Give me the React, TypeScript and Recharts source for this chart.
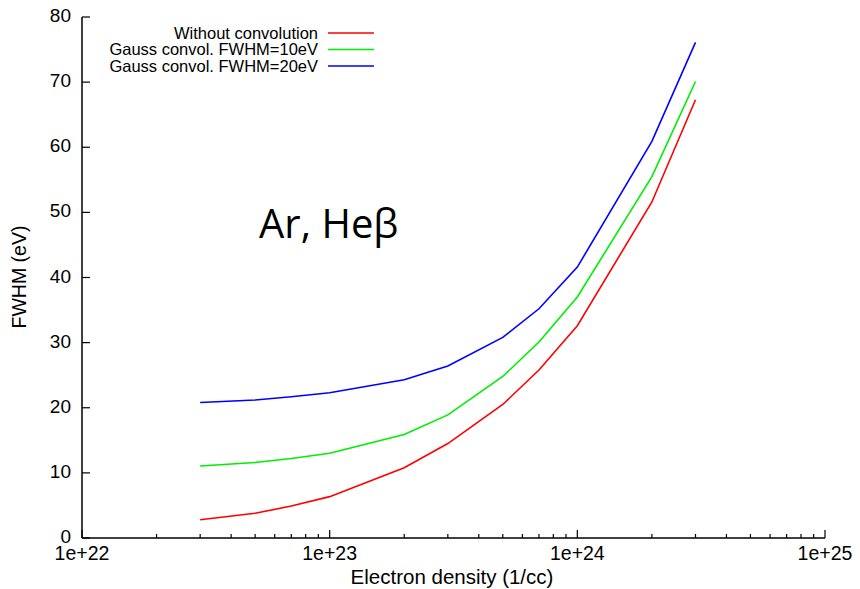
import React from "react";
import { LineChart, Line, XAxis, YAxis } from "recharts";

const densities = [3e22, 5e22, 7e22, 1e23, 2e23, 3e23, 5e23, 7e23, 1e24, 2e24, 3e24];
const noConv = [2.8, 3.8, 4.9, 6.35, 10.8, 14.5, 20.5, 25.8, 32.6, 51.6, 67.3];
const gauss10 = [11.05, 11.6, 12.2, 13.0, 15.9, 18.9, 24.8, 30.1, 37.0, 55.5, 70.1];
const gauss20 = [20.8, 21.2, 21.7, 22.3, 24.3, 26.4, 30.8, 35.2, 41.6, 60.9, 76.1];

const seriesNames = ["Without convolution", "Gauss convol. FWHM=10eV", "Gauss convol. FWHM=20eV"];
const seriesColors = ["#ff0000", "#00ee00", "#0000ff"];
const decades = [22, 23, 24];
const yTicks = [0, 10, 20, 30, 40, 50, 60, 70, 80];
const xTickLabels: Record<number, string> = { 22: "1e+22", 23: "1e+23", 24: "1e+24", 25: "1e+25" };
const xTitle = "Electron density (1/cc)";
const yTitle = "FWHM (eV)";
const annotation = "Ar, Heβ";

const xTicks: number[] = [];
decades.forEach((d) => {
  for (let m = 1; m <= 9; m++) xTicks.push(Number(`${m}e${d}`));
});
xTicks.push(1e25);

const data = densities.map((x, i) => ({ x, a: noConv[i], b: gauss10[i], c: gauss20[i] }));

const FONT = '"Liberation Sans", Arial, Helvetica, sans-serif';

const isMajor = (v: number) => {
  const e = Math.log10(v);
  return Math.abs(e - Math.round(e)) < 1e-6;
};

const BottomTick = (props: any) => {
  const { x, y, payload } = props;
  const v = payload.value;
  const major = isMajor(v);
  const e = Math.round(Math.log10(v));
  return (
    <g>
      <line x1={x} y1={y} x2={x} y2={y - (major ? 8 : 4)} stroke="#000" strokeWidth={1.2} />
      {major && (
        <text x={x} y={y + 22} textAnchor="middle" fontSize={19.5} fontFamily={FONT} fill="#000">
          {xTickLabels[e]}
        </text>
      )}
    </g>
  );
};

const TopTick = (props: any) => {
  const { x, y, payload } = props;
  const major = isMajor(payload.value);
  return <line x1={x} y1={y} x2={x} y2={y + (major ? 8 : 4)} stroke="#000" strokeWidth={1.2} />;
};

const LeftTick = (props: any) => {
  const { x, y, payload } = props;
  return (
    <g>
      <line x1={x} y1={y} x2={x + 8} y2={y} stroke="#000" strokeWidth={1.2} />
      <text x={x - 11} y={y + 5} textAnchor="end" fontSize={19} fontFamily={FONT} fill="#000">
        {payload.value}
      </text>
    </g>
  );
};

const RightTick = (props: any) => {
  const { x, y } = props;
  return <line x1={x} y1={y} x2={x - 8} y2={y} stroke="#000" strokeWidth={1.2} />;
};

export default function App() {
  const keys = ["a", "b", "c"];
  return (
    <div style={{ position: "absolute", left: 0, top: 0, width: 860, height: 589, background: "#fff" }}>
      <LineChart width={860} height={589} data={data} margin={{ top: 17, right: 35, left: 0, bottom: 0 }}>
        <XAxis
          xAxisId="bottom"
          dataKey="x"
          type="number"
          scale="log"
          domain={[1e22, 1e25]}
          ticks={xTicks}
          interval={0}
          height={51}
          tickSize={0}
          tickMargin={0}
          tickLine={false}
          tick={<BottomTick />}
          axisLine={{ stroke: "#000", strokeWidth: 1.5 }}
          allowDataOverflow
        />
        <XAxis
          xAxisId="top"
          orientation="top"
          dataKey="x"
          type="number"
          scale="log"
          domain={[1e22, 1e25]}
          ticks={xTicks}
          interval={0}
          height={0}
          tickSize={0}
          tickMargin={0}
          tickLine={false}
          tick={<TopTick />}
          axisLine={{ stroke: "#000", strokeWidth: 1.5 }}
          allowDataOverflow
        />
        <YAxis
          yAxisId="left"
          type="number"
          domain={[0, 80]}
          ticks={yTicks}
          interval={0}
          width={82}
          tickSize={0}
          tickMargin={0}
          tickLine={false}
          tick={<LeftTick />}
          axisLine={{ stroke: "#000", strokeWidth: 1.5 }}
        />
        <YAxis
          yAxisId="right"
          orientation="right"
          type="number"
          domain={[0, 80]}
          ticks={yTicks}
          interval={0}
          width={0}
          tickSize={0}
          tickMargin={0}
          tickLine={false}
          tick={<RightTick />}
          axisLine={{ stroke: "#000", strokeWidth: 1.5 }}
        />
        {keys.map((k, i) => (
          <Line
            key={k}
            xAxisId="bottom"
            yAxisId="left"
            type="linear"
            dataKey={k}
            stroke={seriesColors[i]}
            strokeWidth={1.6}
            dot={false}
            activeDot={false}
            isAnimationActive={false}
          />
        ))}
      </LineChart>
      <svg
        width={860}
        height={589}
        style={{ position: "absolute", left: 0, top: 0, pointerEvents: "none" }}
      >
        {seriesNames.map((n, i) => (
          <g key={n}>
            <text x={318} y={38.5 + i * 16.5} textAnchor="end" fontSize={16.5} fontFamily={FONT} fill="#000">
              {n}
            </text>
            <line x1={328} x2={374} y1={33 + i * 16.5} y2={33 + i * 16.5} stroke={seriesColors[i]} strokeWidth={1.6} />
          </g>
        ))}
        <text x={452} y={584} textAnchor="middle" fontSize={20.5} fontFamily={FONT} fill="#000">
          {xTitle}
        </text>
        <text
          x={0}
          y={0}
          transform="translate(26,277) rotate(-90)"
          textAnchor="middle"
          fontSize={19.5}
          fontFamily={FONT}
          fill="#000"
        >
          {yTitle}
        </text>
        <text x={259} y={238} fontSize={40} fontFamily='"Open Sans", "Noto Sans", sans-serif' fill="#000">
          {annotation}
        </text>
      </svg>
    </div>
  );
}
